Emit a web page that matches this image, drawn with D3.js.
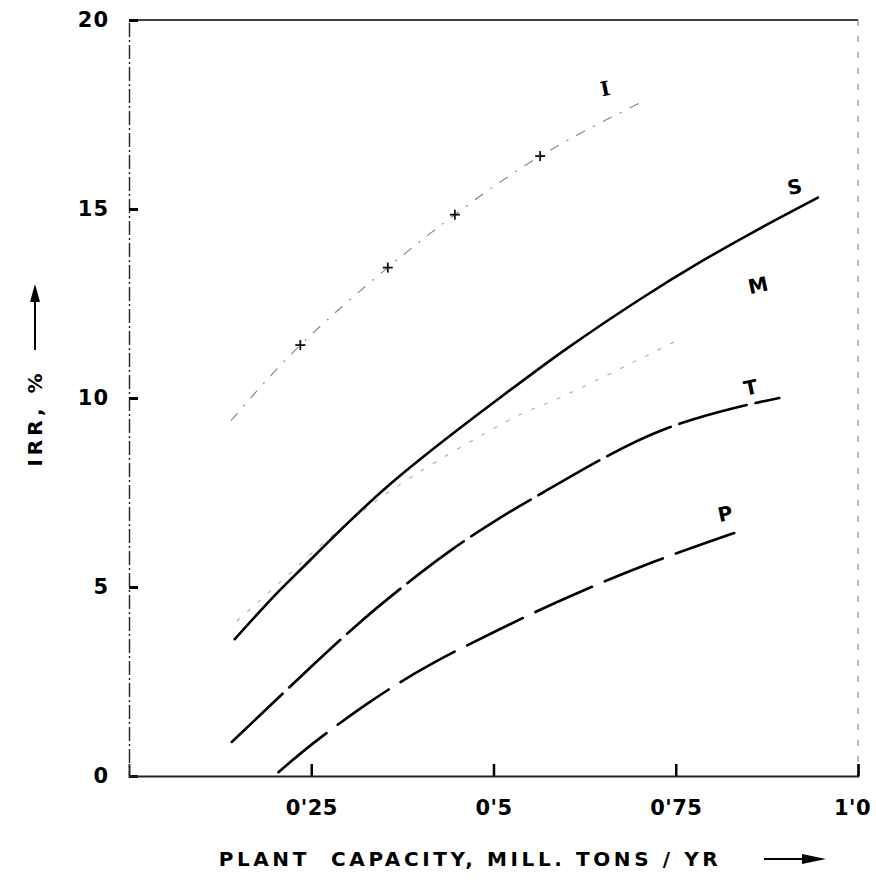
<!DOCTYPE html>
<html><head><meta charset="utf-8">
<script src="https://cdn.jsdelivr.net/npm/d3@7"></script>
<style>html,body{margin:0;padding:0;background:#fff;}svg{display:block;}</style>
</head><body>
<script>
// ---- data ----
const xTicks = [0.25, 0.5, 0.75, 1.0];
const xTickLabels = ["0'25", "0'5", "0'75", "1'0"];
const yTicks = [0, 5, 10, 15, 20];
const yTickLabels = ["0", "5", "10", "15", "20"];

const sX = [0.145, 0.2, 0.25, 0.36, 0.505, 0.6, 0.70, 0.784, 0.862, 0.945];
const sY = [3.62, 4.78, 5.74, 7.75, 9.95, 11.3, 12.6, 13.6, 14.45, 15.3];

const mX = [0.148, 0.2, 0.26, 0.33, 0.42, 0.53, 0.59, 0.75];
const mY = [4.1, 5.0, 6.05, 7.15, 8.3, 9.5, 10.0, 11.5];

const tX = [0.141, 0.235, 0.31, 0.372, 0.44, 0.509, 0.568, 0.65, 0.738, 0.829, 0.892];
const tY = [0.9, 2.62, 3.95, 4.95, 5.95, 6.83, 7.5, 8.4, 9.2, 9.73, 10.0];

const pX = [0.205, 0.253, 0.326, 0.409, 0.505, 0.602, 0.719, 0.835];
const pY = [0.1, 0.87, 1.9, 2.9, 3.85, 4.73, 5.66, 6.46];

const iX = [0.14, 0.235, 0.355, 0.447, 0.564, 0.70];
const iY = [9.4, 11.4, 13.45, 14.85, 16.4, 17.8];
const iMarkX = [0.235, 0.355, 0.447, 0.564];
const iMarkY = [11.4, 13.45, 14.85, 16.4];

const seriesNames = ["I", "S", "M", "T", "P"];
const labelX = [0.655, 0.915, 0.865, 0.855, 0.82];
const labelY = [18.0, 15.4, 12.8, 10.1, 6.75];

const yTitle = "IRR, %";
const xTitle = "PLANT  CAPACITY, MILL. TONS / YR";

// ---- chart ----
const W = 876, H = 888;
const svg = d3.select("body").append("svg").attr("width", W).attr("height", H);
const x = d3.scaleLinear().domain([0, 1]).range([129, 858]);
const y = d3.scaleLinear().domain([0, 20]).range([776, 20]);
const font = "'DejaVu Sans', 'Liberation Sans', sans-serif";

// frame: top and right
svg.append("line").attr("x1", x(0)).attr("x2", x(1)).attr("y1", y(20)).attr("y2", y(20))
  .attr("stroke", "#000").attr("stroke-width", 1.6);
svg.append("line").attr("x1", x(1)).attr("x2", x(1)).attr("y1", y(20)).attr("y2", y(0))
  .attr("stroke", "#777").attr("stroke-width", 1).attr("stroke-dasharray", "6,10");

// y axis
const ya = svg.append("g").attr("transform", `translate(${x(0)},0)`)
  .call(d3.axisLeft(y).tickValues(yTicks).tickSize(-9).tickPadding(20)
    .tickFormat((d, i) => yTickLabels[i]));
ya.select(".domain").attr("stroke", "#222").attr("stroke-width", 1.4).attr("stroke-dasharray", "14,3,2,3");
ya.selectAll(".tick line").attr("stroke", "#000").attr("stroke-width", 3);
ya.selectAll(".tick text").attr("font-family", font).attr("font-size", 21)
  .attr("font-weight", "bold").attr("fill", "#000").attr("letter-spacing", 1);

// x axis
const xa = svg.append("g").attr("transform", `translate(0,${y(0)})`)
  .call(d3.axisBottom(x).tickValues(xTicks).tickSize(-12).tickPadding(24)
    .tickFormat((d, i) => xTickLabels[i]));
xa.select(".domain").attr("stroke", "#222").attr("stroke-width", 1.8);
xa.selectAll(".tick line").attr("stroke", "#000").attr("stroke-width", 2.5);
xa.selectAll(".tick text").attr("font-family", font).attr("font-size", 21)
  .attr("font-weight", "bold").attr("fill", "#000").attr("letter-spacing", 0.5)
  .attr("dx", (d, i) => i === xTicks.length - 1 ? -6 : 0);

const line = d3.line().x(d => x(d[0])).y(d => y(d[1])).curve(d3.curveNatural);
const zip = (a, b) => a.map((v, i) => [v, b[i]]);

// I : faint dash-dot
svg.append("path").attr("d", line(zip(iX, iY))).attr("fill", "none")
  .attr("stroke", "#888").attr("stroke-width", 1.2).attr("stroke-dasharray", "10,9,2,9");
// markers on I
iMarkX.forEach((v, i) => {
  const cx = x(v), cy = y(iMarkY[i]);
  svg.append("line").attr("x1", cx - 5).attr("x2", cx + 5).attr("y1", cy).attr("y2", cy)
    .attr("stroke", "#111").attr("stroke-width", 1.8);
  svg.append("line").attr("x1", cx).attr("x2", cx).attr("y1", cy - 5).attr("y2", cy + 5)
    .attr("stroke", "#111").attr("stroke-width", 1.8);
});
// M : faint dotted
svg.append("path").attr("d", line(zip(mX, mY))).attr("fill", "none")
  .attr("stroke", "#aaa").attr("stroke-width", 1.1).attr("stroke-dasharray", "4,10");
// S : solid
svg.append("path").attr("d", line(zip(sX, sY))).attr("fill", "none")
  .attr("stroke", "#000").attr("stroke-width", 2.6).attr("stroke-linecap", "round");
// T : long dashes
svg.append("path").attr("d", line(zip(tX, tY))).attr("fill", "none")
  .attr("stroke", "#000").attr("stroke-width", 2.6).attr("stroke-linecap", "round")
  .attr("stroke-dasharray", "70,9");
// P : dashes
svg.append("path").attr("d", line(zip(pX, pY))).attr("fill", "none")
  .attr("stroke", "#000").attr("stroke-width", 2.6).attr("stroke-linecap", "round")
  .attr("stroke-dasharray", "62,14");

// curve labels
seriesNames.forEach((n, i) => {
  svg.append("text").attr("x", x(labelX[i])).attr("y", y(labelY[i]))
    .attr("text-anchor", "middle").attr("font-family", i === 0 ? "'DejaVu Serif', serif" : font)
    .attr("font-weight", "bold")
    .attr("font-size", 20).attr("fill", "#000")
    .attr("transform", `rotate(-12,${x(labelX[i])},${y(labelY[i])})`).text(n);
});

// y title with arrow
const yt = svg.append("g").attr("transform", "translate(42,418) rotate(-90)");
yt.append("text").attr("x", 0).attr("y", 0).attr("text-anchor", "middle")
  .attr("font-family", font).attr("font-weight", "bold").attr("font-size", 20)
  .attr("letter-spacing", 4).attr("fill", "#000").text(yTitle);
yt.append("line").attr("x1", 68).attr("x2", 130).attr("y1", -7).attr("y2", -7)
  .attr("stroke", "#000").attr("stroke-width", 2);
yt.append("path").attr("d", "M116,-12 L134,-7 L116,-2 Z").attr("fill", "#000");

// x title with arrow
svg.append("text").attr("x", 470).attr("y", 866).attr("text-anchor", "middle")
  .attr("font-family", font).attr("font-weight", "bold").attr("font-size", 20)
  .attr("letter-spacing", 3.6).attr("fill", "#000").attr("xml:space", "preserve")
  .style("white-space", "pre").text(xTitle);
svg.append("line").attr("x1", 764).attr("x2", 822).attr("y1", 859).attr("y2", 859)
  .attr("stroke", "#000").attr("stroke-width", 2);
svg.append("path").attr("d", "M802,854 L826,859 L802,864 Z").attr("fill", "#000");
</script>
</body></html>
